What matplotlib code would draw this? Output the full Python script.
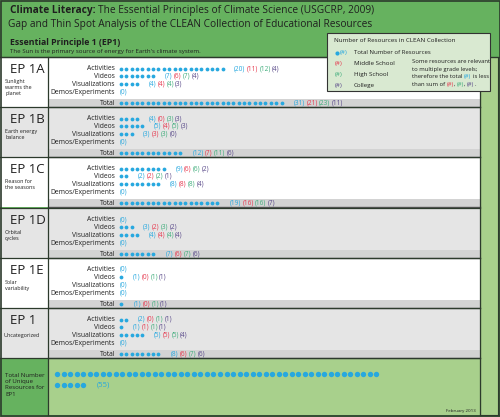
"""
Análisis de huecos del CLEAN Collection para el Principio Esencial 1.
"""
import numpy as np
import matplotlib
matplotlib.use("Agg")
import matplotlib.pyplot as plt
from matplotlib.patches import Rectangle

plt.rcParams['font.family'] = ['Open Sans', 'DejaVu Sans']

# --- datos ---
principios = ["EP 1A", "EP 1B", "EP 1C", "EP 1D", "EP 1E", "EP 1"]
descripciones = ["Sunlight\nwarms the\nplanet", "Earth energy\nbalance", "Reason for\nthe seasons",
                 "Orbital\ncycles", "Solar\nvariability", "Uncategorized"]
tipos = ["Activities", "Videos", "Visualizations", "Demos/Experiments"]
# cada entrada: [total, middle school, high school, college]
activities = [[20, 11, 12, 4], [4, 0, 3, 3], [9, 6, 6, 2], [0, 0, 0, 0], [0, 0, 0, 0], [2, 0, 1, 1]]
videos = [[7, 6, 7, 4], [5, 4, 5, 3], [2, 2, 2, 1], [3, 2, 3, 2], [1, 0, 1, 1], [1, 1, 1, 1]]
visualizations = [[4, 4, 4, 3], [3, 3, 3, 0], [8, 8, 8, 4], [4, 4, 4, 4], [0, 0, 0, 0], [5, 5, 5, 4]]
demos = [[0, 0, 0, 0], [0, 0, 0, 0], [0, 0, 0, 0], [0, 0, 0, 0], [0, 0, 0, 0], [0, 0, 0, 0]]
totales = [[31, 21, 23, 11], [12, 7, 11, 6], [19, 16, 16, 7], [7, 6, 7, 6], [1, 0, 1, 1], [8, 6, 7, 6]]
total_unicos = 55

# --- colores ---
VERDE_OSCURO = "#66b25f"
VERDE_CLARO = "#a8d08c"
VERDE_LEYENDA = "#d9e9d1"
GRIS_FILA = "#e5e5e5"
GRIS_TOTAL = "#d3d3d3"
BORDE = "#2c3a2c"
CIAN = "#27a8df"
ROJO = "#e6394f"
VERDE = "#40ad7c"
MORADO = "#5a4a8a"
TEXTO = "#1f1f1f"
COLORES = [CIAN, ROJO, VERDE, MORADO]

X_DOT = 121
DX_DOT = 5.35


def texto_mixto(ax, x, y, partes, size, va="center"):
    """Escribe varias piezas de texto seguidas, cada una con su color."""
    t = None
    for texto, color, sep, peso in partes:
        if t is None:
            t = ax.text(x, y, texto, color=color, fontsize=size, va=va, ha="left", fontweight=peso)
        else:
            t = ax.annotate(texto, xy=(1, 0.5), xycoords=t, xytext=(sep, 0),
                            textcoords="offset points", color=color, fontsize=size,
                            va="center", ha="left", fontweight=peso)
    return t


def contadores(ax, x, y, valores, size=4.7):
    if valores[0] == 0:
        valores = valores[:1]
    partes = [(f"({v})", c, 1.0, "normal") for v, c in zip(valores, COLORES)]
    texto_mixto(ax, x, y, partes, size)


def puntos(ax, y, n, x0=X_DOT, dx=DX_DOT, s=7.5, gap=11.5):
    if n:
        ax.scatter(x0 + np.arange(n) * dx, np.full(n, y), s=s, color=CIAN,
                   linewidths=0, zorder=3)
        return x0 + (n - 1) * dx + gap
    return x0 - 1


fig = plt.figure(figsize=(5, 4.17), dpi=100)
ax = fig.add_axes([0, 0, 1, 1])
ax.set_xlim(0, 500)
ax.set_ylim(417, 0)
ax.axis("off")

# fondo y cabecera
ax.add_patch(Rectangle((0, 0), 500, 417, fc=VERDE_OSCURO, ec="none"))
ax.add_patch(Rectangle((480, 57), 18, 358, fc=VERDE_CLARO, ec=BORDE, lw=0.8))

texto_mixto(ax, 10, 10.5, [("Climate Literacy:", TEXTO, 0, "bold"),
                           ("The Essential Principles of Climate Science (USGCRP, 2009)", TEXTO, 2.0, "normal")], 7.3)
ax.text(8, 24.5, "Gap and Thin Spot Analysis of the CLEAN Collection of Educational Resources",
        fontsize=7.3, color=TEXTO, va="center")
ax.text(10, 42, "Essential Principle 1 (EP1)", fontsize=6.3, fontweight="bold", color=TEXTO, va="center")
ax.text(10, 51.5, "The Sun is the primary source of energy for Earth's climate system.",
        fontsize=4.4, color=TEXTO, va="center")

# filas por principio
tops = [57, 107, 157, 208, 258, 308]
for i, top in enumerate(tops):
    fondo = "white" if i % 2 == 0 else GRIS_FILA
    ax.add_patch(Rectangle((0, top), 480, 50, fc=fondo, ec="none"))
    ax.add_patch(Rectangle((48, top + 42), 432, 8, fc=GRIS_TOTAL, ec="none"))
    ax.plot([48, 480], [top + 50, top + 50], color="#555555", lw=1.0)
    ax.plot([0, 480], [top, top], color=BORDE, lw=0.9)

    ax.text(10, top + 12, principios[i], fontsize=9.5, color=TEXTO, va="center")
    if i == len(tops) - 1:
        ax.text(3, top + 27, descripciones[i], fontsize=3.9, color=TEXTO, va="center")
    else:
        ax.text(5, top + 22, descripciones[i], fontsize=3.9, color=TEXTO, va="top", linespacing=1.25)

    filas = [activities[i], videos[i], visualizations[i], demos[i]]
    for j, (tipo, valores) in enumerate(zip(tipos, filas)):
        y = top + 11.5 + j * 7.9
        ax.text(115, y, tipo, fontsize=4.9, color=TEXTO, va="center", ha="right")
        xv = puntos(ax, y, valores[0])
        contadores(ax, xv, y, valores)

    y = top + 46.3
    ax.text(115, y, "Total", fontsize=4.9, color=TEXTO, va="center", ha="right")
    xv = puntos(ax, y, totales[i][0], gap=12.5)
    contadores(ax, xv, y, totales[i])

# sección inferior
ax.add_patch(Rectangle((48, 358), 432, 57, fc=VERDE_CLARO, ec="none"))
ax.plot([0, 480], [358, 358], color=BORDE, lw=0.9)
ax.text(5, 373, "Total Number\nof Unique\nResources for\nEP1", fontsize=4.4, color=TEXTO,
        va="top", linespacing=1.3)
primera = min(total_unicos, 50)
ax.scatter(57 + np.arange(primera) * 6.52, np.full(primera, 373.5), s=15, color=CIAN,
           linewidths=0, zorder=3)
resto = total_unicos - primera
ax.scatter(57 + np.arange(resto) * 6.52, np.full(resto, 384.5), s=15, color=CIAN,
           linewidths=0, zorder=3)
ax.text(57 + (resto - 1) * 6.52 + 14, 384.5, f"({total_unicos})", fontsize=5.5, color=CIAN, va="center")
ax.text(476, 411, "February 2013", fontsize=3.2, color=TEXTO, va="center", ha="right")

# líneas de marco
ax.plot([48, 48], [57, 415], color=BORDE, lw=0.9)
ax.plot([480, 480], [57, 415], color=BORDE, lw=0.9)
ax.plot([0, 500], [57, 57], color=BORDE, lw=0.9)
ax.add_patch(Rectangle((0.5, 0.5), 499, 415.5, fc="none", ec=BORDE, lw=1.2))

# leyenda
ax.add_patch(Rectangle((327, 33), 163, 58, fc=VERDE_LEYENDA, ec="#333333", lw=0.8, zorder=4))
ax.text(334, 40, "Number of Resources in CLEAN Collection", fontsize=4.5, color=TEXTO, va="center", zorder=5)
ax.scatter([337], [52.5], s=9, color=CIAN, linewidths=0, zorder=5)
ax.text(340, 52.5, "(#)", fontsize=4.5, color=CIAN, va="center", zorder=5)
ax.text(354, 52.5, "Total Number of Resources", fontsize=4.3, color=TEXTO, va="center", zorder=5)
niveles = ["Middle School", "High School", "College"]
for k, (nivel, color) in enumerate(zip(niveles, COLORES[1:])):
    y = 63.5 + k * 10.8
    ax.text(335, y, "(#)", fontsize=4.5, color=color, va="center", zorder=5)
    ax.text(354, y, nivel, fontsize=4.5, color=TEXTO, va="center", zorder=5)
nota = [
    [("Some resources are relevant", TEXTO, 0, "normal")],
    [("to multiple grade levels;", TEXTO, 0, "normal")],
    [("therefore the total", TEXTO, 0, "normal"), ("(#)", CIAN, 1.2, "normal"),
     ("is less", TEXTO, 1.2, "normal")],
    [("than sum of", TEXTO, 0, "normal"), ("(#)", ROJO, 1.2, "normal"), (",", TEXTO, 0, "normal"),
     ("(#)", VERDE, 1.0, "normal"), (",", TEXTO, 0, "normal"), ("(#)", MORADO, 1.0, "normal"),
     (".", TEXTO, 0, "normal")],
]
for k, partes in enumerate(nota):
    t = texto_mixto(ax, 412, 61.5 + k * 7.6, partes, 4.2)
for txt in ax.texts:
    txt.set_zorder(5)

fig.savefig("out.png", dpi=100)
plt.close(fig)
